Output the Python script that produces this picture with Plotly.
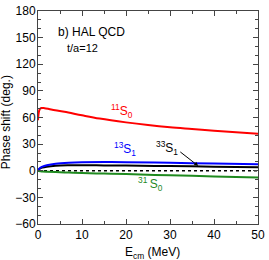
import plotly.graph_objects as go

# Energies (MeV) and phase shifts (deg.)
e_red = [0, 0.1, 0.25, 0.5, 0.8, 1.5, 3, 6, 10, 14, 20, 25, 30, 35, 40, 45, 50]
d_11S0 = [57, 63, 67.5, 70, 70.8, 70.5, 69, 66.5, 62.5, 58.8, 54.5, 51.5, 49, 47, 45, 43.3, 41.8]

e_s = [0, 0.25, 0.5, 1, 2, 4, 7, 10, 15, 20, 30, 40, 50]
d_13S1 = [0, 2.2, 3.2, 4.6, 6.1, 7.8, 9.0, 9.6, 9.8, 9.6, 8.9, 8.1, 7.4]
d_33S1 = [0, 1.8, 2.6, 3.6, 4.6, 5.6, 6.1, 6.2, 6.0, 5.8, 5.3, 4.6, 3.9]
d_31S0 = [0, -0.3, -0.5, -0.8, -1.1, -1.5, -2.0, -2.5, -3.2, -3.8, -5.1, -6.4, -7.7]

x_ticks = [0, 10, 20, 30, 40, 50]
y_ticks = [-60, -30, 0, 30, 60, 90, 120, 150, 180]

fig = go.Figure()
fig.add_trace(go.Scatter(x=[0, 50], y=[0, 0], mode="lines",
                         line=dict(color="black", width=1.5, dash="dot")))
fig.add_trace(go.Scatter(x=e_s, y=d_31S0, mode="lines", line=dict(color="#1f8a1f", width=2, shape="spline")))
fig.add_trace(go.Scatter(x=e_s, y=d_33S1, mode="lines", line=dict(color="black", width=2, shape="spline")))
fig.add_trace(go.Scatter(x=e_s, y=d_13S1, mode="lines", line=dict(color="#0000ff", width=2, shape="spline")))
fig.add_trace(go.Scatter(x=e_red, y=d_11S0, mode="lines", line=dict(color="#ff0000", width=2, shape="spline")))

axis_common = dict(showgrid=False, zeroline=False, showline=True, linecolor="#444", linewidth=1,
                   ticks="inside", mirror="allticks", tickcolor="#444", ticklen=5, tickwidth=1,
                   tickfont=dict(size=12, color="black"), ticklabeloverflow="allow")
fig.update_xaxes(range=[0, 50], tickvals=x_ticks, ticktext=[str(v) for v in x_ticks],
                 minor=dict(dtick=5, ticks="inside", ticklen=3, tickcolor="#444"), **axis_common)
fig.update_yaxes(range=[-60, 180], tickvals=y_ticks,
                 ticktext=["\u221260", "\u221230", "0", "30", "60", "90", "120", "150", "180"],
                 minor=dict(dtick=10, ticks="inside", ticklen=3, tickcolor="#444"),
                 ticklabelstandoff=-1, **axis_common)

ann = [
    dict(x=0.08, y=0.9, xref="paper", yref="paper", text="b) HAL QCD", showarrow=False,
         xanchor="left", yanchor="middle", font=dict(size=12, color="black")),
    dict(x=0.122, y=0.825, xref="paper", yref="paper", text="t/a=12", showarrow=False,
         xanchor="left", yanchor="middle", font=dict(size=11, color="black")),
    dict(x=-0.142, y=0.477, xref="paper", yref="paper", text="Phase shift (deg.)", textangle=-90,
         showarrow=False, xanchor="center", yanchor="middle", font=dict(size=12, color="black")),
    dict(x=0.52, y=-0.135, xref="paper", yref="paper", text="E<sub>cm</sub> (MeV)",
         showarrow=False, xanchor="center", yanchor="middle", font=dict(size=12, color="black")),
    dict(x=19.0, y=67, text="<sup>11</sup>S<sub>0</sub>", showarrow=False, font=dict(size=12, color="#ff0000")),
    dict(x=19.8, y=24, text="<sup>13</sup>S<sub>1</sub>", showarrow=False, font=dict(size=12, color="#0000ff")),
    dict(x=29.3, y=25.5, text="<sup>33</sup>S<sub>1</sub>", showarrow=False, font=dict(size=12, color="black")),
    dict(x=36.4, y=5.5, ax=32.0, ay=22.5, axref="x", ayref="y", text="",
         showarrow=True, arrowhead=2, arrowsize=0.8, arrowwidth=1, arrowcolor="black"),
    dict(x=25.5, y=-15, text="<sup>31 </sup>S<sub>0</sub>", showarrow=False, font=dict(size=12, color="#1f8a1f")),
]
fig.update_layout(width=269, height=260, margin=dict(l=38, r=11, t=4, b=36),
                  plot_bgcolor="white", paper_bgcolor="white", showlegend=False,
                  font=dict(family="Liberation Sans, Arial, sans-serif", color="black"),
                  annotations=ann)
fig.write_html("out.html", config={"displayModeBar": False})

with open("out.html", "r", encoding="utf-8") as f:
    html = f.read()
html = html.replace("<head>", "<head><style>html,body{margin:0;padding:0;overflow:hidden;}</style>", 1)
with open("out.html", "w", encoding="utf-8") as f:
    f.write(html)
